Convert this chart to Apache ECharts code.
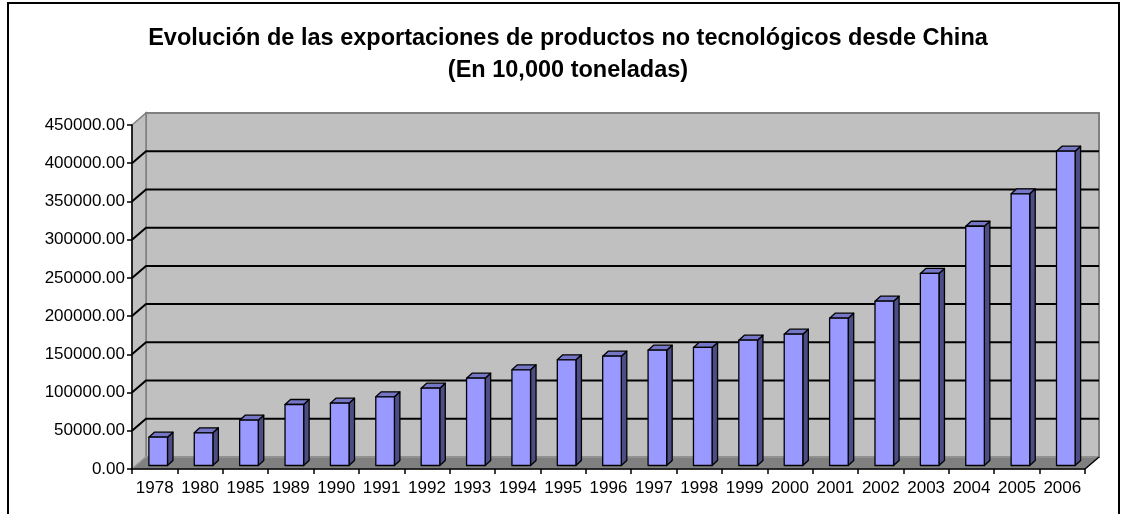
<!DOCTYPE html>
<html>
<head>
<meta charset="utf-8">
<script src="https://cdn.jsdelivr.net/npm/echarts@6/dist/echarts.min.js"></script>
<style>
  html, body { margin: 0; padding: 0; background: #fff; }
  #chart { width: 1122px; height: 514px; }
</style>
</head>
<body>
<div id="chart"></div>
<script>
// datos
const years = ['1978', '1980', '1985', '1989', '1990', '1991', '1992', '1993', '1994', '1995', '1996',
  '1997', '1998', '1999', '2000', '2001', '2002', '2003', '2004', '2005', '2006'];
const exportsValues = [37000, 42800, 59300, 79800, 81500, 89900, 101100, 114200, 125200, 138300, 143000,
  150800, 154400, 163900, 171800, 192700, 214900, 251200, 313000, 355400, 411200];
const yTicks = [0, 50000, 100000, 150000, 200000, 250000, 300000, 350000, 400000, 450000];

// 3D look
const WALL_DEPTH = [14, -12];
const BAR_SHIFT = [3.5, -3.5];
const BAR_DEPTH = [5.5, -5];
const FONT = 'Arial, "Liberation Sans", sans-serif';

const chart = echarts.init(document.getElementById('chart'));

// back wall, side wall, floor and gridlines
const renderWalls = (params, api) => {
  const cs = params.coordSys;
  const x0 = cs.x;
  const x1 = cs.x + cs.width;
  const dx = WALL_DEPTH[0];
  const dy = WALL_DEPTH[1];
  const yOf = (v) => api.coord([0, v])[1];
  const yBottom = yOf(yTicks[0]);
  const yTop = yOf(yTicks[yTicks.length - 1]);
  const children = [
    {
      type: 'polygon',
      shape: { points: [[x0 + dx, yTop + dy], [x1 + dx, yTop + dy], [x1 + dx, yBottom + dy], [x0 + dx, yBottom + dy]] },
      style: { fill: '#c0c0c0', stroke: '#808080', lineWidth: 2 }
    },
    {
      type: 'polygon',
      shape: { points: [[x0, yTop], [x0 + dx, yTop + dy], [x0 + dx, yBottom + dy], [x0, yBottom]] },
      style: { fill: '#c0c0c0', stroke: '#808080', lineWidth: 1.5 }
    },
    {
      type: 'polygon',
      shape: { points: [[x0, yBottom], [x0 + dx, yBottom + dy], [x1 + dx, yBottom + dy], [x1, yBottom]] },
      style: { fill: '#808080', stroke: '#a0a0a0', lineWidth: 1 }
    },
    {
      type: 'line',
      shape: { x1: x1, y1: yBottom, x2: x1 + dx, y2: yBottom + dy },
      style: { stroke: '#000', lineWidth: 1.5 }
    }
  ];
  yTicks.slice(1, -1).forEach((v) => {
    const y = yOf(v);
    children.push({
      type: 'polyline',
      shape: { points: [[x0, y], [x0 + dx, y + dy], [x1 + dx, y + dy]] },
      style: { stroke: '#000', lineWidth: 2, fill: null }
    });
  });
  return { type: 'group', children: children };
};

// bars with front, side and top faces
const renderBar = (params, api) => {
  const idx = api.value(0);
  const val = api.value(1);
  const base = api.coord([idx, 0]);
  const top = api.coord([idx, val]);
  const band = api.size([1, 0])[0];
  const w = band * 0.41;
  const l = base[0] - w / 2 + BAR_SHIFT[0];
  const r = l + w;
  const yb = base[1] + BAR_SHIFT[1];
  const yt = top[1] + BAR_SHIFT[1];
  const dx = BAR_DEPTH[0];
  const dy = BAR_DEPTH[1];
  const edge = { stroke: '#000', lineWidth: 1.3, lineJoin: 'round' };
  return {
    type: 'group',
    children: [
      {
        type: 'polygon',
        shape: { points: [[r, yb], [r + dx, yb + dy], [r + dx, yt + dy], [r, yt]] },
        style: Object.assign({ fill: '#4d4d85' }, edge)
      },
      {
        type: 'polygon',
        shape: { points: [[l, yt], [l + dx, yt + dy], [r + dx, yt + dy], [r, yt]] },
        style: Object.assign({ fill: '#7676c6' }, edge)
      },
      {
        type: 'rect',
        shape: { x: l, y: yt, width: w, height: yb - yt },
        style: Object.assign({ fill: '#9999ff' }, edge)
      }
    ]
  };
};

const titleStyle = { fontFamily: FONT, fontWeight: 'bold', fontSize: 23.5, color: '#000', lineHeight: 24 };

const option = {
  backgroundColor: '#fff',
  animation: false,
  title: [
    {
      text: 'Evolución de las exportaciones de productos no tecnológicos desde China',
      left: 568,
      top: 27,
      textAlign: 'center',
      padding: 0,
      textStyle: titleStyle
    },
    {
      text: '(En 10,000 toneladas)',
      left: 568,
      top: 59,
      textAlign: 'center',
      padding: 0,
      textStyle: titleStyle
    }
  ],
  graphic: [
    {
      type: 'rect',
      silent: true,
      shape: { x: 8, y: 3, width: 1111, height: 540 },
      style: { fill: null, stroke: '#000', lineWidth: 2 }
    }
  ],
  grid: { left: 132, right: 37, top: 125, bottom: 45 },
  xAxis: {
    type: 'category',
    data: years,
    z: 10,
    axisLine: { lineStyle: { color: '#000', width: 1.5 } },
    axisTick: { show: true, length: 5, interval: 0, lineStyle: { color: '#000', width: 1.5 } },
    axisLabel: { color: '#000', fontFamily: FONT, fontSize: 17, margin: 11, interval: 0, hideOverlap: false },
    splitLine: { show: false }
  },
  yAxis: {
    type: 'value',
    min: 0,
    max: 450000,
    interval: 50000,
    z: 10,
    axisLine: { show: true, lineStyle: { color: '#000', width: 1.5 } },
    axisTick: { show: true, length: 5, lineStyle: { color: '#000', width: 1.5 } },
    axisLabel: {
      color: '#000',
      fontFamily: FONT,
      fontSize: 17,
      margin: 7,
      formatter: (v) => v.toFixed(2)
    },
    splitLine: { show: false }
  },
  series: [
    {
      type: 'custom',
      name: 'walls',
      z: 1,
      silent: true,
      clip: false,
      renderItem: renderWalls,
      data: [[0, 0]]
    },
    {
      type: 'custom',
      name: 'Exportaciones',
      z: 3,
      clip: false,
      renderItem: renderBar,
      data: exportsValues.map((v, i) => [i, v])
    }
  ]
};

chart.setOption(option);
window.addEventListener('resize', () => chart.resize());
</script>
</body>
</html>
